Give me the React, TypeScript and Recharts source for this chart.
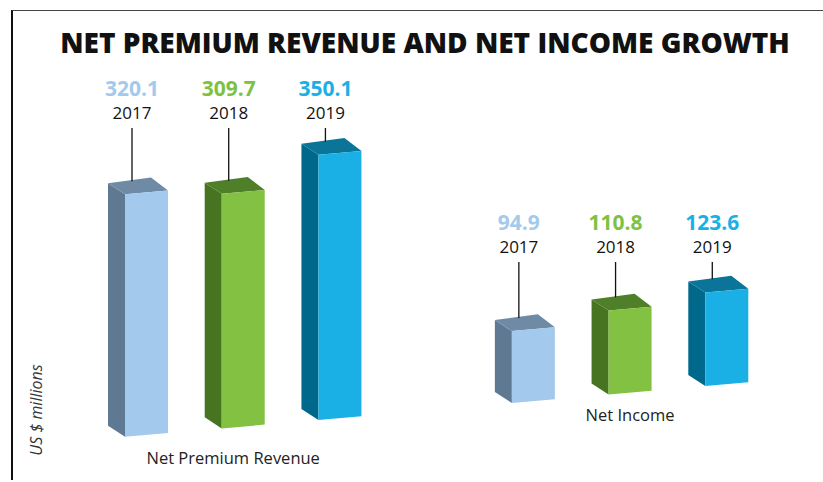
import React from 'react';
import { BarChart, Bar, XAxis, YAxis } from 'recharts';

const years = ['2017', '2018', '2019'];
const netPremiumRevenue = [320.1, 309.7, 350.1];
const netIncome = [94.9, 110.8, 123.6];
const groupNames = ['Net Premium Revenue', 'Net Income'];

// one row per bar, with an empty slot between the two groups
const data = [
  ...years.map((year, i) => ({ key: `npr-${year}`, group: 0, yi: i, year, value: netPremiumRevenue[i] })),
  { key: 'gap', group: -1, yi: -1, year: '', value: null },
  ...years.map((year, i) => ({ key: `ni-${year}`, group: 1, yi: i, year, value: netIncome[i] })),
];

const COLORS = [
  { front: '#A3C9EC', side: '#5F7993', top: '#6E8AA5', text: '#A3C9EC' }, // 2017
  { front: '#82C142', side: '#477421', top: '#4F7F28', text: '#7DC242' }, // 2018
  { front: '#1AB0E6', side: '#00698B', top: '#0A7598', text: '#1AB0E6' }, // 2019
];

// floor perspective
const TILT_DEG = 5;
const K = Math.tan((TILT_DEG * Math.PI) / 180);
const X0 = 146;
const DX = 17; // box depth
const DY = 12.5;

const LABEL_ROW_Y = [128, 262];
const GROUP_LABEL_DX = [-10, 0];
const GROUP_LABEL_DY = [30, 22];

const FONT = '"Open Sans", "DejaVu Sans", sans-serif';

const Box3D = (props: any) => {
  const { x, y, width, height, payload } = props;
  if (!payload || payload.value == null) return null;
  const c = COLORS[payload.yi];
  const skew = (px: number, py: number) => py - K * (px - X0);
  const lx = x + 7;
  const rowY = LABEL_ROW_Y[payload.group];
  const lineEnd = skew(lx, y - DY);
  const bottom = y + height;
  const gx = x + width / 2 + GROUP_LABEL_DX[payload.group];
  return (
    <g>
      <g transform={`translate(0 ${K * X0}) skewY(${-TILT_DEG})`}>
        <polygon
          points={`${x},${y} ${x - DX},${y - DY} ${x - DX},${bottom - DY} ${x},${bottom}`}
          fill={c.side}
        />
        <polygon
          points={`${x},${y} ${x + width},${y} ${x + width - DX},${y - DY - 2} ${x - DX},${y - DY}`}
          fill={c.top}
        />
        <rect x={x} y={y} width={width} height={height} fill={c.front} />
      </g>
      <line x1={lx} x2={lx} y1={rowY} y2={lineEnd} stroke="#111" strokeWidth={1.3} />
      <text
        x={lx}
        y={rowY - 40}
        textAnchor="middle"
        dominantBaseline="central"
        fontFamily={FONT}
        fontWeight={700}
        fontSize={21}
        fill={c.text}
      >
        {payload.value.toFixed(1)}
      </text>
      <text
        x={lx}
        y={rowY - 16}
        textAnchor="middle"
        dominantBaseline="central"
        fontFamily={FONT}
        fontSize={17}
        fill="#111"
      >
        {payload.year}
      </text>
      {payload.yi === 1 && (
        <text
          x={gx}
          y={skew(gx, bottom) + GROUP_LABEL_DY[payload.group]}
          textAnchor="middle"
          dominantBaseline="central"
          fontFamily={FONT}
          fontSize={16.5}
          fill="#222"
        >
          {groupNames[payload.group]}
        </text>
      )}
    </g>
  );
};

export default function App() {
  return (
    <div style={{ position: 'absolute', left: 0, top: 0, width: 823, height: 482, background: '#fff', overflow: 'hidden' }}>
      <div
        style={{
          position: 'absolute',
          left: 11,
          top: 10,
          right: -2,
          bottom: 2,
          borderLeft: '2px solid #111',
          borderTop: '1.5px solid #444',
        }}
      />
      <div
        style={{
          position: 'absolute',
          left: 0,
          width: 850,
          top: 23,
          textAlign: 'center',
          fontFamily: FONT,
          fontWeight: 800,
          fontSize: 28,
          color: '#111',
          whiteSpace: 'nowrap',
        }}
      >
        NET PREMIUM REVENUE AND NET INCOME GROWTH
      </div>
      <div
        style={{
          position: 'absolute',
          left: 36,
          top: 410,
          transform: 'translate(-50%, -50%) rotate(-90deg)',
          fontFamily: FONT,
          fontStyle: 'italic',
          fontSize: 16,
          color: '#333',
          whiteSpace: 'nowrap',
        }}
      >
        US $ millions
      </div>
      <div style={{ position: 'absolute', left: 0, top: 0 }}>
        <BarChart
          width={823}
          height={482}
          data={data}
          margin={{ top: 132, right: 48, bottom: 47, left: 98 }}
          barSize={43}
        >
          <XAxis dataKey="key" hide />
          <YAxis hide domain={[0, 400]} />
          <Bar dataKey="value" shape={<Box3D />} isAnimationActive={false} />
        </BarChart>
      </div>
    </div>
  );
}
